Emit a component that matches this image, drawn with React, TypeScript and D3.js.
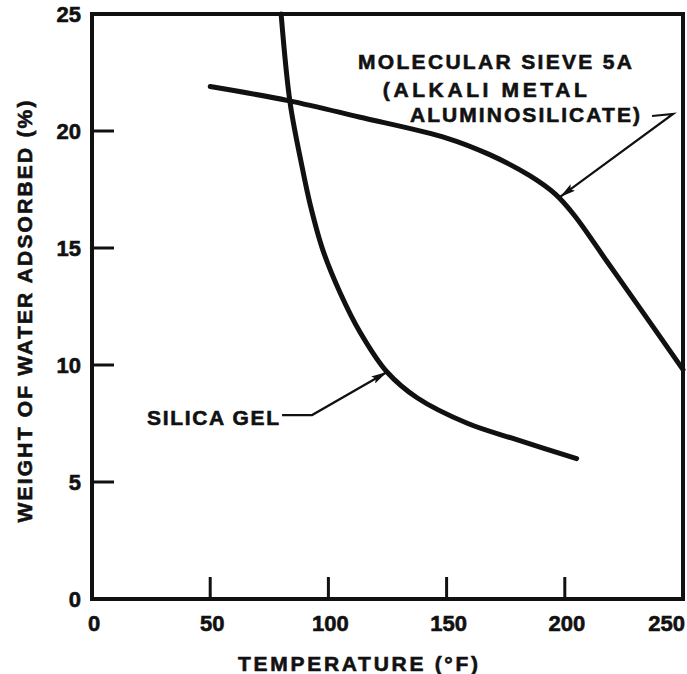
import * as d3 from "d3";
import { useEffect } from "react";

// axis ticks
const xTicks = [0, 50, 100, 150, 200, 250];
const yTicks = [0, 5, 10, 15, 20, 25];

// molecular sieve 5A curve (temperature °F, weight %)
const sieveTemp = [50, 83, 113, 150, 168, 185, 196, 204, 218, 232, 250];
const sieveWater = [21.9, 21.3, 20.6, 19.7, 19.0, 18.1, 17.3, 16.4, 14.4, 12.4, 9.8];

// silica gel curve
const gelTemp = [80, 83.8, 88.8, 92.2, 97.7, 104.9, 113.4, 124.8, 137.5, 159, 180, 205];
const gelWater = [25, 21.2, 18.5, 16.9, 14.9, 13.1, 11.4, 9.7, 8.6, 7.5, 6.8, 6.0];

// annotations (data coordinates)
const sieveLabel = ["MOLECULAR SIEVE 5A", "(ALKALI METAL", "ALUMINOSILICATE)"];
const sieveLabelAt = [[112.5, 22.65], [123, 21.45], [134.5, 20.38]];
const sieveLeader = [[236.9, 20.64], [245.8, 20.73], [198, 17.18]];
const gelLabel = "SILICA GEL";
const gelLabelAt = [23.3, 7.44];
const gelLeader = [[80.4, 7.86], [93.1, 7.86], [124.8, 9.7]];

const xTitle = "TEMPERATURE (°F)";
const yTitle = "WEIGHT OF WATER ADSORBED (%)";

const App = () => {
    const width = 687;
    const height = 674;
    const marginLeft = 92;
    const marginRight = 4;
    const marginTop = 14;
    const marginBottom = 75;
    const font = "'Liberation Sans', Arial, sans-serif";
    const ink = "#111";

    useEffect(() => {
        document.body.style.margin = "0";
    }, []);

    const x = d3.scaleLinear().domain([0, 250]).range([marginLeft, width - marginRight]);
    const y = d3.scaleLinear().domain([0, 25]).range([height - marginBottom, marginTop]);

    const line = d3.line<[number, number]>()
        .x(d => x(d[0]))
        .y(d => y(d[1]))
        .curve(d3.curveCatmullRom.alpha(0.5));

    const sieve = sieveTemp.map((t, i) => [t, sieveWater[i]] as [number, number]);
    const gel = gelTemp.map((t, i) => [t, gelWater[i]] as [number, number]);

    const leader = d3.line<number[]>().x(d => x(d[0])).y(d => y(d[1]));

    const sieveWidths = [274, 204, 230];
    const textProps = { fontFamily: font, fontWeight: "bold", fill: ink, stroke: ink, strokeWidth: 0.6 };

    return (
        <svg width={width} height={height} style={{ display: "block", background: "#fff" }}>
            <defs>
                <marker id="arrow" viewBox="0 0 16 8" refX="16" refY="4" markerWidth="16" markerHeight="8"
                        markerUnits="userSpaceOnUse" orient="auto">
                    <path d="M0,0 L16,4 L0,8 L3,4 Z" fill={ink} />
                </marker>
            </defs>

            {/* frame */}
            <rect x={x(0)} y={y(25)} width={x(250) - x(0)} height={y(0) - y(25)}
                  fill="none" stroke={ink} strokeWidth={4} />

            {/* inward ticks */}
            {xTicks.slice(1, -1).map(t => (
                <line key={`xt${t}`} x1={x(t)} x2={x(t)} y1={y(0)} y2={y(0) - 22} stroke={ink} strokeWidth={3} />
            ))}
            {yTicks.slice(1, -1).map(t => (
                <line key={`yt${t}`} x1={x(0)} x2={x(0) + 22} y1={y(t)} y2={y(t)} stroke={ink} strokeWidth={3} />
            ))}

            {/* tick labels */}
            {xTicks.map((t, i) => (
                <text key={`xl${t}`} x={x(t) + 2} y={y(0) + 32}
                      textAnchor={i === xTicks.length - 1 ? "end" : "middle"}
                      fontSize={22} {...textProps}>{t}</text>
            ))}
            {yTicks.map(t => (
                <text key={`yl${t}`} x={x(0) - 11} y={y(t) + 8} textAnchor="end"
                      fontSize={22} {...textProps}>{t}</text>
            ))}

            {/* axis titles */}
            <text x={x(0) + 146} y={y(0) + 72} textLength={240} lengthAdjust="spacing"
                  fontSize={21} {...textProps}>{xTitle}</text>
            <text transform={`translate(${32},${(y(0) + y(25)) / 2 + 5}) rotate(-90)`} textAnchor="middle"
                  textLength={422} lengthAdjust="spacing"
                  fontSize={21} {...textProps}>{yTitle}</text>

            {/* curves */}
            <path d={line(sieve) ?? ""} fill="none" stroke={ink} strokeWidth={5} strokeLinecap="round" />
            <path d={line(gel) ?? ""} fill="none" stroke={ink} strokeWidth={5} strokeLinecap="round" />

            {/* annotations */}
            {sieveLabel.map((s, i) => (
                <text key={s} x={x(sieveLabelAt[i][0])} y={y(sieveLabelAt[i][1])}
                      textLength={sieveWidths[i]} lengthAdjust="spacing"
                      fontSize={21} {...textProps}>{s}</text>
            ))}
            <path d={leader(sieveLeader) ?? ""} fill="none" stroke={ink} strokeWidth={2.2} markerEnd="url(#arrow)" />

            <text x={x(gelLabelAt[0])} y={y(gelLabelAt[1])} textLength={132} lengthAdjust="spacing"
                  fontSize={21} {...textProps}>{gelLabel}</text>
            <path d={leader(gelLeader) ?? ""} fill="none" stroke={ink} strokeWidth={2.2} markerEnd="url(#arrow)" />
        </svg>
    );
};

export default App;
